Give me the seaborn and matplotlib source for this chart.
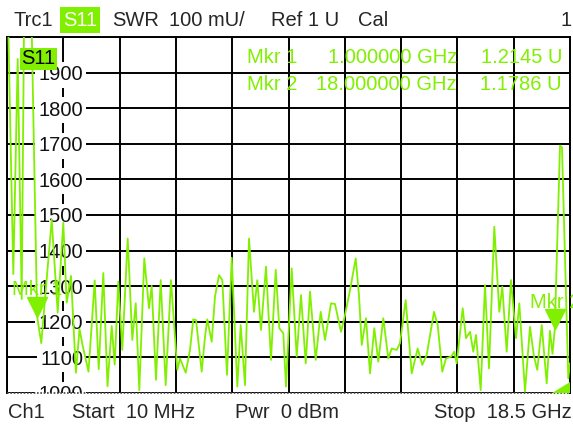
import numpy as np
import pandas as pd
import matplotlib
matplotlib.use("Agg")
import matplotlib.pyplot as plt
import seaborn as sns
from matplotlib.transforms import ScaledTranslation, blended_transform_factory

# ---------------- data ----------------
freq_mhz = [10, 217, 361, 493, 585, 782, 1000, 1136, 1478, 1675, 1859, 1971, 2112, 2273,
            2391, 2490, 2687, 2890, 3022, 3173, 3311, 3449, 3547, 3665, 3797, 3974, 4125,
            4237, 4355, 4519, 4674, 4762, 4903, 5058, 5222, 5396, 5603, 5692, 5879, 6020,
            6128, 6217, 6404, 6513, 6588, 6733, 6841, 6973, 7081, 7235, 7390, 7574, 7685,
            7826, 7958, 8122, 8230, 8352, 8516, 8680, 8835, 8953, 9084, 9173, 9360, 9524,
            9666, 9820, 9961, 10148, 10313, 10454, 10651, 10782, 10979, 11088, 11275, 11462,
            11570, 11659, 11800, 11932, 12073, 12204, 12368, 12533, 12644, 12809, 12917,
            13104, 13301, 13498, 13649, 13794, 14034, 14155, 14306, 14428, 14592, 14700,
            14779, 14976, 15085, 15216, 15324, 15413, 15567, 15708, 15840, 16014, 16178,
            16277, 16421, 16562, 16727, 16835, 17022, 17186, 17318, 17426, 17571, 17735,
            17843, 17925, 18000, 18172, 18237, 18444, 18500]
swr_mu = [2200, 1334, 1938, 1264, 2200, 2200, 1214.5, 1140, 1487, 1226, 1478, 1254, 1329, 1057,
          1180, 1135, 1060, 1316, 1067, 1337, 1019, 1188, 1080, 1313, 1121, 1434, 1149,
          1252, 1008, 1378, 1238, 1301, 1037, 1317, 1022, 1317, 1065, 1097, 1057, 1121,
          1207, 1205, 1060, 1158, 1207, 1144, 1271, 1331, 1317, 1051, 1380, 1018, 1191,
          1022, 1434, 1228, 1317, 1177, 1355, 1093, 1346, 1182, 1168, 1018, 1350, 1102,
          1275, 1083, 1285, 1093, 1228, 1149, 1252, 1250, 1172, 1210, 1289, 1378,
          1275, 1135, 1210, 1055, 1182, 1088, 1210, 1097, 1125, 1121, 1140,
          1261, 1055, 1125, 1079, 1107, 1228, 1191, 1060, 1097, 1102, 1116,
          1083, 1238, 1154, 1172, 1116, 1163, 1008, 1303, 1069, 1467, 1228,
          1299, 1116, 1317, 1154, 1252, 1004, 1186, 1102, 1065, 1191, 1027,
          1175, 1110, 1178.6, 1695, 1690, 1041, 1084]

y_tick_values = [1000, 1100, 1200, 1300, 1400, 1500, 1600, 1700, 1800, 1900]
y_tick_labels = ["1000", "1100", "1200", "1300", "1400", "1500", "1600", "1700", "1800", "1900"]

marker_names = ["Mkr 1", "Mkr 2"]
marker_freqs = [1000, 18000]
marker_vals = [1214.5, 1178.6]
marker_freq_text = ["1.000000 GHz", "18.000000 GHz"]
marker_val_text = ["1.2145 U", "1.1786 U"]

start_mhz, stop_mhz = 10, 18500
ref_min, ref_max = 1000, 2000

# ---------------- style ----------------
GREEN = "#80f000"
W, H = 573, 428
FS = 14.5

sns.set_style("white")
plt.rcParams["font.family"] = ["Liberation Sans", "DejaVu Sans"]

fig = plt.figure(figsize=(W / 100, H / 100), dpi=100)
ax = fig.add_axes([7 / W, 1 - 393 / H, 563 / W, 356 / H])

df = pd.DataFrame({"freq": freq_mhz, "swr": swr_mu})
sns.lineplot(data=df, x="freq", y="swr", ax=ax, color=GREEN, lw=1.3,
             sort=False, estimator=None, zorder=5)

ax.set_xlim(start_mhz, stop_mhz)
ax.set_ylim(ref_min, ref_max)
ax.set_xticks(np.linspace(start_mhz, stop_mhz, 11))
ax.set_yticks(np.arange(ref_min, ref_max + 1, 100))
ax.tick_params(length=0, labelbottom=False, labelleft=False)
ax.set_xlabel("")
ax.set_ylabel("")
ax.grid(True, color="black", lw=1.4)
ax.set_axisbelow(True)
for s in ["left", "right", "top"]:
    ax.spines[s].set_color("black")
    ax.spines[s].set_linewidth(1.4)
ax.spines["bottom"].set_visible(False)
ax.plot([0, 1], [0, 0], transform=ax.transAxes, ls=(0, (1, 1)), color="#444444",
        lw=1.2, clip_on=False, zorder=4)

# y labels inside the plot, white boxes cover the grid
trans = blended_transform_factory(ax.transAxes, ax.transData)
for v, lab in zip(y_tick_values, y_tick_labels):
    ax.text(76 / 563, v, lab, transform=trans, ha="right", va="center_baseline",
            fontsize=FS, color="#111111", zorder=3, clip_on=True,
            bbox=dict(fc="white", ec="none", pad=2.5))

# markers
off = ax.transData + ScaledTranslation(0, 10 / 100, fig.dpi_scale_trans)
ax.plot(marker_freqs, marker_vals, ls="none", marker="v", ms=14.5, color=GREEN,
        mec=GREEN, transform=off, zorder=7, clip_on=False)
for name, f, v in zip(marker_names, marker_freqs, marker_vals):
    ax.annotate(name, (f, v), xytext=(0, 21), textcoords="offset points",
                ha="center", va="center_baseline", fontsize=FS, color=GREEN,
                zorder=8, annotation_clip=False)

# below-range indicator at the bottom right
ax.fill([0.968, 1.0, 1.0], [0.0, 0.0, 0.03], transform=ax.transAxes, color=GREEN,
        clip_on=False, zorder=8, lw=0)

# trace label in the plot
fig.text(38.5 / W, 1 - 57 / H, "S11", ha="center", va="center_baseline", fontsize=FS,
         color="black", zorder=9,
         bbox=dict(fc=GREEN, ec="none", boxstyle="square,pad=0.08"))

# marker table
for i, (name, ftxt, vtxt) in enumerate(zip(marker_names, marker_freq_text, marker_val_text)):
    yy = 1 - (55.5 + 27 * i) / H
    fig.text(247 / W, yy, name, ha="left", va="center_baseline", fontsize=FS, color=GREEN, zorder=9)
    fig.text(457 / W, yy, ftxt, ha="right", va="center_baseline", fontsize=FS, color=GREEN, zorder=9)
    fig.text(562 / W, yy, vtxt, ha="right", va="center_baseline", fontsize=FS, color=GREEN, zorder=9)

# header
hy = 1 - 18 / H
fig.text(13 / W, hy, "Trc1", ha="left", va="center_baseline", fontsize=FS)
fig.text(80 / W, hy, "S11", ha="center", va="center_baseline", fontsize=FS, color="white",
         bbox=dict(fc=GREEN, ec="none", boxstyle="square,pad=0.15"))
fig.text(112 / W, hy, "SWR", ha="left", va="center_baseline", fontsize=FS)
fig.text(169 / W, hy, "100 mU/", ha="left", va="center_baseline", fontsize=FS)
fig.text(271 / W, hy, "Ref 1 U", ha="left", va="center_baseline", fontsize=FS)
fig.text(358 / W, hy, "Cal", ha="left", va="center_baseline", fontsize=FS)
fig.text(572 / W, hy, "1", ha="right", va="center_baseline", fontsize=FS)

# footer
fy = 1 - 410 / H
fig.text(8 / W, fy, "Ch1", ha="left", va="center_baseline", fontsize=FS)
fig.text(72 / W, fy, "Start  10 MHz", ha="left", va="center_baseline", fontsize=FS)
fig.text(235 / W, fy, "Pwr  0 dBm", ha="left", va="center_baseline", fontsize=FS)
fig.text(572 / W, fy, "Stop  18.5 GHz", ha="right", va="center_baseline", fontsize=FS)

fig.savefig("out.png", dpi=100, facecolor="white")
